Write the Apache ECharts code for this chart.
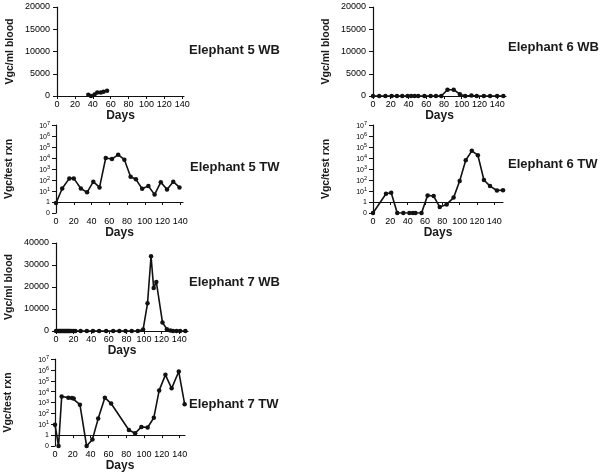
<!DOCTYPE html>
<html>
<head>
<meta charset="utf-8">
<script src="https://cdn.jsdelivr.net/npm/echarts@6/dist/echarts.min.js"></script>
<style>
  html, body { margin: 0; padding: 0; background: #fff; }
  #chart { width: 602px; height: 476px; }
</style>
</head>
<body>
<div id="chart"></div>
<script>
// days and values
const e5wbDays = [35, 38, 42, 45, 49, 52, 56]
const e5wbVals = [300, 0, 350, 800, 800, 950, 1200]

const e5twDays = [0, 7, 15, 20, 28, 35, 42, 49, 56, 63, 70, 77, 84, 90, 97, 104, 111, 118, 125, 132, 139]
const e5twVals = [0.8, 17, 140, 140, 17, 7.5, 70, 21, 10000, 8000, 20000, 7000, 200, 115, 16, 28, 4.7, 63, 14, 70, 21]

const e6wbDays = [0, 7, 14, 21, 27, 33, 39, 43, 47, 51, 58, 65, 71, 77, 84, 91, 98, 104, 111, 117, 125, 132, 140, 147]
const e6wbVals = [0, 0, 0, 0, 0, 0, 0, 0, 0, 0, 0, 0, 0, 0, 1400, 1400, 400, 0, 100, 0, 0, 0, 0, 0]

const e6twDays = [0, 15, 21, 28, 35, 42, 46, 49, 56, 63, 70, 77, 85, 93, 100, 107, 114, 121, 128, 135, 143, 150]
const e6twVals = [0, 5.6, 7, 0, 0, 0, 0, 0, 0, 4, 3.5, 0.35, 0.6, 2.5, 80, 6300, 45000, 18000, 100, 28, 11, 12]

const e7wbDays = [0, 2, 3, 4, 5, 6, 7, 8, 9, 10, 11, 12, 13, 14, 15, 16, 18, 20, 22, 28, 35, 42, 49, 57, 65, 72, 79, 86, 93, 99, 104, 108, 111, 114, 121, 126, 130, 133, 137, 141, 147]
const e7wbVals = [0, 0, 0, 0, 0, 0, 0, 0, 0, 0, 0, 0, 0, 0, 0, 0, 0, 0, 0, 0, 0, 0, 0, 0, 0, 0, 0, 0, 0, 700, 12600, 34000, 19500, 22300, 3900, 800, 200, 0, 0, 0, 0]

const e7twDays = [0, 4, 7.5, 15, 19, 21, 28, 35.5, 42, 48.5, 56, 63, 83, 90, 97, 104, 111, 117, 124, 131, 139, 145.6]
const e7twVals = [9, 0, 3500, 2800, 2600, 2300, 630, 0, 0.4, 33, 2800, 800, 3, 1.5, 5.7, 5, 40, 13000, 350000, 20000, 700000, 700]

const dayTicks = [0, 20, 40, 60, 80, 100, 120, 140]
const logTickLabels = ['0', '1', '10', '10', '10', '10', '10', '10', '10']

const panelTitles = ['Elephant 5 WB', 'Elephant 6 WB', 'Elephant 5 TW', 'Elephant 6 TW', 'Elephant 7 WB', 'Elephant 7 TW']

// log scale with "0" drawn one decade under 1
function toLog(v) {
  return v > 0 ? Math.log10(v) : -1
}
function pairs(days, vals, log) {
  return days.map((d, i) => [d, log ? toLog(vals[i]) : vals[i]])
}

const font = 'Liberation Sans, Arial, sans-serif'
const axisLine = { lineStyle: { color: '#111', width: 1.2 } }

const panels = [
  { left: 57, top: 7, width: 127, height: 89, xmax: 142, log: false, ymax: 20000, yint: 5000, name: 'Vgc/ml blood', data: pairs(e5wbDays, e5wbVals, false) },
  { left: 373, top: 7, width: 133, height: 89, xmax: 150, log: false, ymax: 20000, yint: 5000, name: 'Vgc/ml blood', data: pairs(e6wbDays, e6wbVals, false) },
  { left: 56, top: 125, width: 127, height: 88, xmax: 143, log: true, name: 'Vgc/test rxn', data: pairs(e5twDays, e5twVals, true) },
  { left: 373, top: 125, width: 130, height: 88, xmax: 150, log: true, name: 'Vgc/test rxn', data: pairs(e6twDays, e6twVals, true) },
  { left: 56, top: 243, width: 132, height: 88, xmax: 150, log: false, ymax: 40000, yint: 10000, name: 'Vgc/ml blood', data: pairs(e7wbDays, e7wbVals, false) },
  { left: 55, top: 359, width: 130, height: 87, xmax: 146, log: true, name: 'Vgc/test rxn', data: pairs(e7twDays, e7twVals, true) }
]

const titlePos = [[189, 44], [508, 41], [190, 161], [508, 158], [189, 276], [189, 398]]

const chart = echarts.init(document.getElementById('chart'))

chart.setOption({
  backgroundColor: '#fff',
  animation: false,
  title: panelTitles.map((t, i) => ({
    text: t,
    left: titlePos[i][0],
    top: titlePos[i][1],
    padding: 0,
    textStyle: { fontSize: 13, fontWeight: 'bold', fontFamily: font, color: '#1a1a1a' }
  })),
  grid: panels.map(p => ({ left: p.left, top: p.top, width: p.width, height: p.height })),
  xAxis: panels.map((p, i) => ({
    type: 'value',
    gridIndex: i,
    min: 0,
    max: p.xmax,
    interval: 20,
    name: 'Days',
    nameLocation: 'middle',
    nameGap: 12,
    nameTextStyle: { fontSize: 12, fontWeight: 'bold', fontFamily: font, color: '#1a1a1a', verticalAlign: 'top' },
    axisLine: axisLine,
    axisTick: { show: true, length: 3, customValues: dayTicks, lineStyle: { color: '#111' } },
    axisLabel: { customValues: dayTicks, margin: 4, fontSize: 9, fontFamily: font, color: '#000' },
    splitLine: { show: false }
  })),
  yAxis: panels.map((p, i) => {
    const ax = {
      type: 'value',
      gridIndex: i,
      name: p.name,
      nameLocation: 'middle',
      nameGap: 41,
      nameTextStyle: { fontSize: 10.5, fontWeight: 'bold', fontFamily: font, color: '#1a1a1a' },
      axisLine: { show: true, lineStyle: { color: '#111', width: 1.2 } },
      axisTick: { show: true, length: 4, lineStyle: { color: '#111' } },
      splitLine: { show: false }
    }
    if (p.log) {
      ax.min = -1
      ax.max = 7
      ax.interval = 1
      ax.axisLabel = {
        margin: 6,
        fontSize: 7,
        fontFamily: font,
        color: '#000',
        showMinLabel: true,
        showMaxLabel: true,
        hideOverlap: false,
        formatter: v => {
          const idx = Math.round(v) + 1
          if (idx <= 1) return logTickLabels[idx]
          return '{b|' + logTickLabels[idx] + '}{s|' + Math.round(v) + '}'
        },
        rich: {
          b: { fontSize: 7, fontFamily: font, color: '#000', lineHeight: 9, verticalAlign: 'bottom' },
          s: { fontSize: 5.5, fontFamily: font, color: '#000', lineHeight: 5, verticalAlign: 'top' }
        }
      }
    } else {
      ax.min = 0
      ax.max = p.ymax
      ax.interval = p.yint
      ax.axisLabel = {
        margin: 7,
        fontSize: 9,
        fontFamily: font,
        color: '#000',
        showMaxLabel: true,
        formatter: v => String(v)
      }
    }
    return ax
  }),
  series: panels.map((p, i) => ({
    type: 'line',
    xAxisIndex: i,
    yAxisIndex: i,
    data: p.data,
    symbol: 'circle',
    symbolSize: 4.5,
    itemStyle: { color: '#111' },
    lineStyle: { color: '#111', width: 1.6 }
  }))
})
</script>
</body>
</html>
